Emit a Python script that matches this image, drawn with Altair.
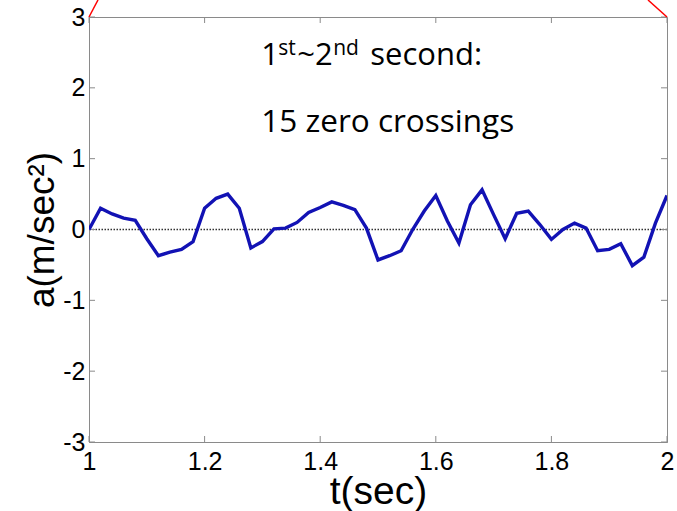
import altair as alt
import pandas as pd

# ---- data ----
t = [round(1 + 0.02 * i, 2) for i in range(51)]
a = [0.0, 0.30, 0.22, 0.16, 0.13, -0.13, -0.37, -0.32, -0.28, -0.17,
     0.30, 0.44, 0.50, 0.30, -0.26, -0.17, 0.01, 0.02, 0.10, 0.24,
     0.31, 0.39, 0.34, 0.28, 0.02, -0.43, -0.37, -0.30, 0.0, 0.26,
     0.48, 0.12, -0.19, 0.35, 0.56, 0.21, -0.13, 0.23, 0.26, 0.07,
     -0.14, 0.0, 0.09, 0.02, -0.30, -0.28, -0.20, -0.51, -0.39, 0.09, 0.48]

x_ticks = [1.0, 1.2, 1.4, 1.6, 1.8, 2.0]
y_ticks = [-3, -2, -1, 0, 1, 2, 3]

ann_text = ["1", "st", "~2", "nd", "second:", "15 zero crossings"]
ann_x = [1.298, 1.298, 1.298, 1.298, 1.298, 1.298]
ann_y = [2.32, 2.32, 2.32, 2.32, 2.32, 1.38]

# ---- styling ----
ann_dx = [0, 17, 36, 72, 109, 0]
ann_dy = [0, -10, 0, -10, 0, 0]
ann_fs = [31, 21, 31, 21, 31, 31.5]

W, H = 578, 425
XMIN, XMAX, YMIN, YMAX = 1.0, 2.0, -3.0, 3.0
tick_len_px = 6
xl = tick_len_px / W * (XMAX - XMIN)
yl = tick_len_px / H * (YMAX - YMIN)
AX = "#8a8a8a"
FONT = "Liberation Sans"

df = pd.DataFrame({"t": t, "a": a})

xs = alt.Scale(domain=[XMIN, XMAX], nice=False, zero=False)
ys = alt.Scale(domain=[YMIN, YMAX], nice=False, zero=False)

line = alt.Chart(df).mark_line(color="#1212b4", strokeWidth=3.4, clip=True).encode(
    x=alt.X("t:Q", scale=xs, title="t(sec)",
            axis=alt.Axis(values=x_ticks, labelExpr="datum.value + ''",
                          ticks=False, tickSize=0,
                          grid=False, domainColor=AX, labelFontSize=25,
                          labelFont=FONT, labelColor="black", labelPadding=7,
                          labelFlush=False, labelOverlap=False,
                          titleFont=FONT, titleFontSize=39,
                          titleFontWeight="normal", titleColor="black",
                          titlePadding=-2)),
    y=alt.Y("a:Q", scale=ys, title="a(m/sec²)",
            axis=alt.Axis(values=y_ticks, labelExpr="datum.value + ''",
                          ticks=False, tickSize=0,
                          grid=False, domainColor=AX, labelFontSize=25,
                          labelFont=FONT, labelColor="black", labelPadding=4,
                          labelFlush=False, labelOverlap=False,
                          titleFont=FONT, titleFontSize=37,
                          titleFontWeight="normal", titleColor="black",
                          titleX=-28, titleY=H / 2, titleAlign="center",
                          titleBaseline="bottom", titleAngle=270)),
)

zero = alt.Chart(pd.DataFrame({"z": [0.0]})).mark_rule(
    color="#333333", strokeWidth=1.5, strokeDash=[1.5, 1.5]
).encode(y=alt.Y("z:Q", scale=ys))

# inward ticks (MATLAB-style box)
tick_rows = []
for v in x_ticks:
    tick_rows.append({"x": v, "x2": v, "y": YMIN, "y2": YMIN + yl})
    tick_rows.append({"x": v, "x2": v, "y": YMAX, "y2": YMAX - yl})
for v in y_ticks:
    tick_rows.append({"x": XMIN, "x2": XMIN + xl, "y": v, "y2": v})
    tick_rows.append({"x": XMAX, "x2": XMAX - xl, "y": v, "y2": v})
ticks = alt.Chart(pd.DataFrame(tick_rows)).mark_rule(color=AX, strokeWidth=1).encode(
    x=alt.X("x:Q", scale=xs), x2="x2:Q",
    y=alt.Y("y:Q", scale=ys), y2="y2:Q",
)

texts = []
for i, s in enumerate(ann_text):
    texts.append(
        alt.Chart(pd.DataFrame({"x": [ann_x[i]], "y": [ann_y[i]], "s": [s]}))
        .mark_text(align="left", baseline="alphabetic", font="Open Sans",
                   fontSize=ann_fs[i], dx=ann_dx[i], dy=ann_dy[i], color="black")
        .encode(x=alt.X("x:Q", scale=xs), y=alt.Y("y:Q", scale=ys), text="s:N")
    )

# red decorative strokes at the top corners
red_l = alt.Chart(pd.DataFrame({"k": [0]})).mark_rule(color="red", strokeWidth=1.5, clip=False).encode(
    x=alt.value(0), y=alt.value(0), x2=alt.value(9), y2=alt.value(-17))
red_r = alt.Chart(pd.DataFrame({"k": [0]})).mark_rule(color="red", strokeWidth=1.5, clip=False).encode(
    x=alt.value(W), y=alt.value(0), x2=alt.value(W - 19), y2=alt.value(-17))

chart = alt.layer(zero, ticks, line, *texts, red_l, red_r).properties(
    width=W, height=H,
    autosize=alt.AutoSizeParams(type="none"),
    padding={"left": 89, "top": 17, "right": 10, "bottom": 69},
    background="white",
).configure_view(stroke=AX, strokeWidth=1)

chart.save("out.html", embed_options={"renderer": "svg", "actions": False})
